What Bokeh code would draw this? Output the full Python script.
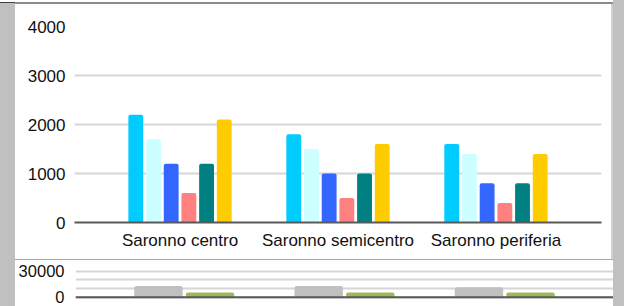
from bokeh.plotting import figure
from bokeh.models import ColumnDataSource, FactorRange, Range1d, FixedTicker, Span, Div
from bokeh.layouts import row, column
from bokeh.transform import dodge
from bokeh.embed import file_html
from bokeh.resources import INLINE

categories = ["Saronno centro", "Saronno semicentro", "Saronno periferia"]
s1 = [2200, 1800, 1600]
s2 = [1700, 1500, 1400]
s3 = [1200, 1000, 800]
s4 = [600, 500, 400]
s5 = [1200, 1000, 800]
s6 = [2100, 1600, 1400]
top_ticks = [0, 1000, 2000, 3000, 4000]
b1 = [13000, 13000, 11500]
b2 = [5500, 5500, 5500]
bottom_ticks = [0, 10000, 20000, 30000]
bottom_labels = {10000: "", 20000: ""}

top_colors = ["#00CCFF", "#CCFFFF", "#3366FF", "#FF8080", "#008080", "#FFCC00"]
bottom_colors = ["#C0C0C0", "#9BBB59"]
FONT = "Liberation Sans"

src = ColumnDataSource(dict(cat=categories, s1=s1, s2=s2, s3=s3, s4=s4, s5=s5, s6=s6))
src_b = ColumnDataSource(dict(cat=categories, b1=b1, b2=b2))

# top panel: rows 0..259 (4px top border band), width 596 + 2px right border
p = figure(width=596, height=255, output_backend="svg", toolbar_location=None,
           x_range=FactorRange(*categories, range_padding=0.112, range_padding_units="percent"),
           y_range=Range1d(0, 4000),
           min_border_left=59, min_border_right=10, min_border_top=22, min_border_bottom=37)
p.outline_line_color = None
p.background_fill_color = "white"
p.border_fill_color = "white"

step = 0.112
width = 0.094
for i, (key, col) in enumerate(zip(["s1", "s2", "s3", "s4", "s5", "s6"], top_colors)):
    off = (i - 2.5) * step
    p.vbar(x=dodge("cat", off, range=p.x_range), top=key, width=width, source=src,
           fill_color=col, line_color=None, border_radius=(2, 2, 0, 0))

p.yaxis.ticker = FixedTicker(ticks=top_ticks)
p.ygrid.ticker = FixedTicker(ticks=top_ticks)
p.ygrid.grid_line_color = "#d6d6d6"
p.ygrid.grid_line_width = 2
p.xgrid.grid_line_color = None
for ax in (p.xaxis, p.yaxis):
    ax.major_tick_line_color = None
    ax.minor_tick_line_color = None
    ax.major_tick_in = 0
    ax.major_tick_out = 0
    ax.major_label_text_font = FONT
    ax.major_label_text_font_size = "17px"
    ax.major_label_text_color = "#111111"
p.yaxis.axis_line_color = None
p.yaxis.major_label_standoff = 9
p.xaxis.axis_line_color = "#595959"
p.xaxis.axis_line_width = 2
p.xaxis.major_label_standoff = 8

q = figure(width=598, height=46, output_backend="svg", toolbar_location=None,
           x_range=FactorRange(*categories, range_padding=0.119, range_padding_units="percent"),
           y_range=Range1d(-10700, 42300),
           min_border_left=59, min_border_right=0, min_border_top=0, min_border_bottom=0)
q.outline_line_color = None
q.background_fill_color = "white"
q.border_fill_color = "white"
boff = 0.161
bw = 0.302
q.vbar(x=dodge("cat", -boff, range=q.x_range), top="b1", width=bw, source=src_b,
       fill_color=bottom_colors[0], line_color=None, border_radius=(2, 2, 0, 0))
q.vbar(x=dodge("cat", boff, range=q.x_range), top="b2", width=bw, source=src_b,
       fill_color=bottom_colors[1], line_color=None, border_radius=(2, 2, 0, 0))
q.xaxis.visible = False
q.xgrid.grid_line_color = None
q.yaxis.ticker = FixedTicker(ticks=bottom_ticks)
q.yaxis.major_label_overrides = bottom_labels
q.ygrid.ticker = FixedTicker(ticks=bottom_ticks)
q.ygrid.grid_line_color = "#d6d6d6"
q.ygrid.grid_line_width = 2
q.yaxis.axis_line_color = None
q.yaxis.major_tick_line_color = None
q.yaxis.minor_tick_line_color = None
q.yaxis.major_tick_in = 0
q.yaxis.major_tick_out = 0
q.yaxis.major_label_standoff = 11
q.yaxis.major_label_text_font = FONT
q.yaxis.major_label_text_font_size = "16.5px"
q.yaxis.major_label_text_color = "#111111"
q.add_layout(Span(location=0, dimension="width", line_color="#595959", line_width=2))

def block(w, h, color):
    return Div(width=w, height=h, margin=0, styles={"background-color": color})

left = column(block(15, 2, "#ffffff"), block(15, 1, "#404040"), block(15, 303, "#c0c0c0"), spacing=0)
right = block(11, 306, "#c0c0c0")
top_border = column(block(598, 2, "#ffffff"), block(598, 2, "#8c8c8c"), spacing=0)
top_panel = row(p, block(2, 255, "#d0d0d0"), spacing=0)
sep = block(598, 1, "#a8a8a8")

layout = row(left, column(top_border, top_panel, sep, q, spacing=0), right, spacing=0)

open("out.html", "w").write(file_html(layout, INLINE))
